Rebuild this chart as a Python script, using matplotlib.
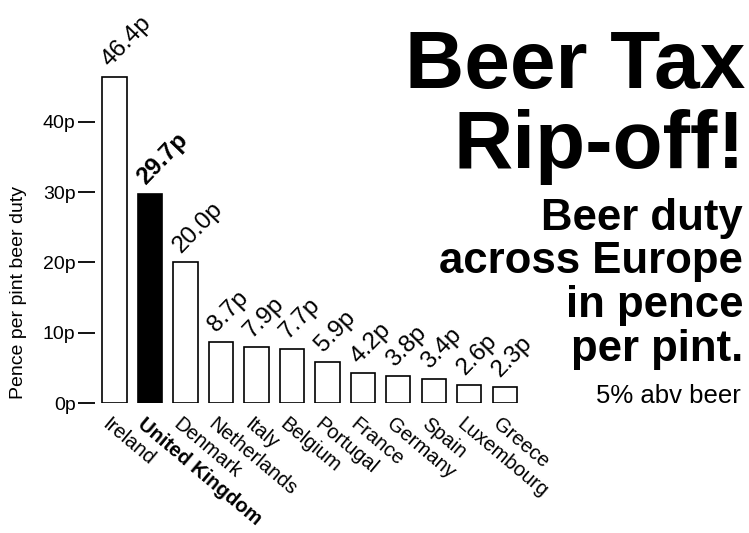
import matplotlib.pyplot as plt

# beer duty per pint (5% abv), pence
countries = ['Ireland', 'United Kingdom', 'Denmark', 'Netherlands', 'Italy', 'Belgium',
             'Portugal', 'France', 'Germany', 'Spain', 'Luxembourg', 'Greece']
duty = [46.4, 29.7, 20.0, 8.7, 7.9, 7.7, 5.9, 4.2, 3.8, 3.4, 2.6, 2.3]
highlight = 'United Kingdom'
yticks = [0, 10, 20, 30, 40]
ytick_labels = ['0p', '10p', '20p', '30p', '40p']

plt.rcParams['font.family'] = ['Liberation Sans', 'DejaVu Sans']

W, H = 749, 533
fig = plt.figure(figsize=(W / 100, H / 100), dpi=100)
ax = fig.add_axes([95 / W, 130 / H, 450 / W, 351.5 / H])

x = list(range(len(countries)))
colors = ['black' if c == highlight else 'white' for c in countries]
ax.bar(x, duty, width=0.68, color=colors, edgecolor='black', linewidth=1.2)

ax.set_xlim(-0.55, 12.13)
ax.set_ylim(0, 50)
for s in ax.spines.values():
    s.set_visible(False)
ax.set_xticks([])
ax.set_yticks(yticks)
ax.set_yticklabels(ytick_labels, fontsize=14)
ax.tick_params(axis='y', length=12, width=1.3, pad=2)
ax.set_ylabel('Pence per pint beer duty', fontsize=14)
ax.yaxis.set_label_coords(-0.15, 0.315)

# value labels above bars, country names below
for i, (c, v) in enumerate(zip(countries, duty)):
    bold = 'bold' if c == highlight else 'normal'
    ax.text(i - 0.12, v + 1.3, f'{v:.1f}p', rotation=46, rotation_mode='anchor',
            ha='left', va='baseline', fontsize=17.5, fontweight=bold)
    ax.text(i - 0.1, -1.6, c, rotation=-40, rotation_mode='anchor',
            ha='left', va='top', fontsize=14.5, fontweight=bold)

# headline block
fig.text(745 / W, 1 - 88 / H, 'Beer Tax', ha='right', va='baseline',
         fontsize=59, fontweight='bold')
fig.text(745 / W, 1 - 168 / H, 'Rip-off!', ha='right', va='baseline',
         fontsize=59, fontweight='bold')
sub = ['Beer duty', 'across Europe', 'in pence', 'per pint.']
base = [230, 273, 317, 361]
for t, b in zip(sub, base):
    fig.text(743 / W, 1 - b / H, t, ha='right', va='baseline',
             fontsize=31.5, fontweight='bold')
fig.text(741 / W, 1 - 403 / H, '5% abv beer', ha='right', va='baseline', fontsize=18.5)

fig.savefig('out.png', dpi=100)
